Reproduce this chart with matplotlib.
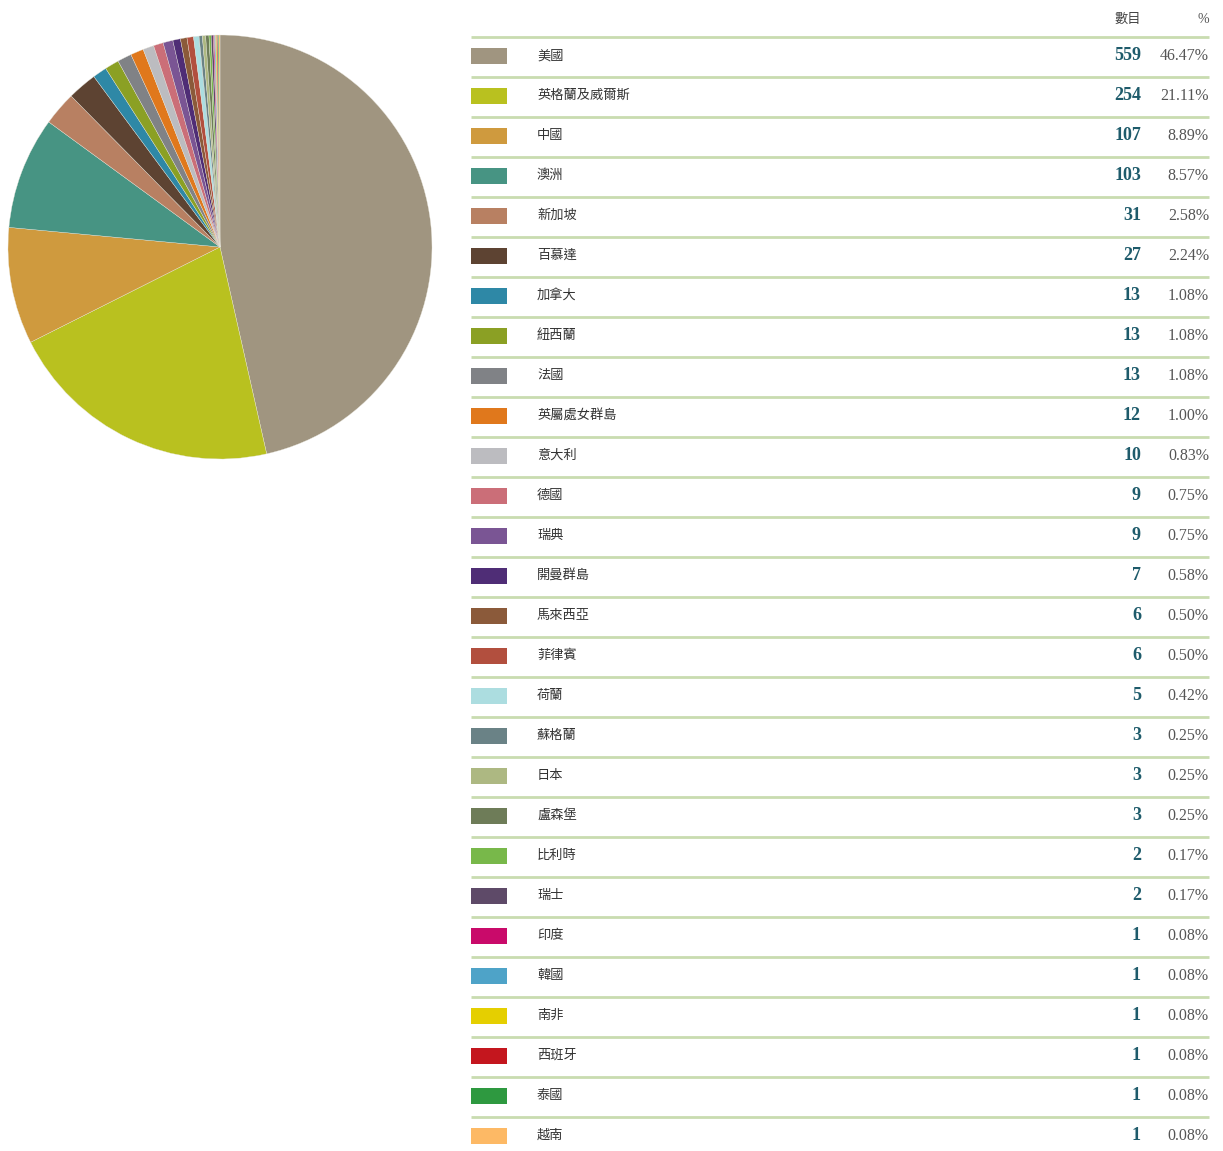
import matplotlib
matplotlib.use("Agg")
import matplotlib.pyplot as plt
from matplotlib.patches import Rectangle

plt.rcParams['font.family'] = ['Noto Sans CJK TC', 'DejaVu Sans']

countries = ["美國", "英格蘭及威爾斯", "中國", "澳洲", "新加坡", "百慕達", "加拿大",
             "紐西蘭", "法國", "英屬處女群島", "意大利", "德國", "瑞典", "開曼群島",
             "馬來西亞", "菲律賓", "荷蘭", "蘇格蘭", "日本", "盧森堡", "比利時", "瑞士",
             "印度", "韓國", "南非", "西班牙", "泰國", "越南"]
counts = [559, 254, 107, 103, 31, 27, 13, 13, 13, 12, 10, 9, 9, 7, 6, 6, 5, 3, 3, 3,
          2, 2, 1, 1, 1, 1, 1, 1]
percents = ["46.47%", "21.11%", "8.89%", "8.57%", "2.58%", "2.24%", "1.08%", "1.08%",
            "1.08%", "1.00%", "0.83%", "0.75%", "0.75%", "0.58%", "0.50%", "0.50%",
            "0.42%", "0.25%", "0.25%", "0.25%", "0.17%", "0.17%", "0.08%", "0.08%",
            "0.08%", "0.08%", "0.08%", "0.08%"]
colors = ["#a09580", "#b9c11f", "#cf9a3e", "#479483", "#b88062", "#5d4332", "#2e88a6",
          "#8ba024", "#808286", "#e0781c", "#bcbcc0", "#cb6e78", "#7a5594", "#4f2d76",
          "#8b5a3a", "#b24f3e", "#acdde0", "#6a8286", "#adb882", "#6e7c58", "#78b84a",
          "#5e4a68", "#c90a6a", "#4ea3c8", "#e5cf00", "#c4161e", "#2e9940", "#fdb965"]

W, H = 1223, 1151
fig = plt.figure(figsize=(W / 100, H / 100), dpi=100)

# pie on the left
pie_ax = fig.add_axes([8 / W, (H - 459) / H, 424 / W, 424 / H])
pie_ax.pie(counts, colors=colors, startangle=90, counterclock=False,
           wedgeprops={'edgecolor': '#e8e6dc', 'linewidth': 0.25})
pie_ax.set_xlim(-1, 1)
pie_ax.set_ylim(-1, 1)
pie_ax.set_aspect('equal')

# table on the right, pixel coordinates
tab = fig.add_axes([0, 0, 1, 1], zorder=-1)
tab.set_xlim(0, W)
tab.set_ylim(H, 0)
tab.axis('off')

serif = ['Liberation Serif', 'DejaVu Serif']
tab.text(1141, 19, "數目", ha='right', va='center', fontsize=9.5, color='#444444')
tab.text(1209, 19, "%", ha='right', va='center', fontsize=10, color='#555555', family=serif)

row_h = 40
y0 = 55.5
line_color = '#c9dcb0'
tab.plot([471, 1209], [y0 - 19, y0 - 19], color=line_color, lw=2, solid_capstyle='butt')
for i, (name, n, pct, c) in enumerate(zip(countries, counts, percents, colors)):
    y = y0 + i * row_h
    tab.add_patch(Rectangle((471, y - 8), 36, 16, color=c, lw=0))
    tab.text(537, y, name, ha='left', va='center', fontsize=9.5, color='#333333')
    tab.text(1141, y, str(n), ha='right', va='center', fontsize=13, fontweight='bold',
             color='#1e5b6b', family=serif)
    tab.text(1209, y, pct, ha='right', va='center', fontsize=11.5, color='#555555',
             family=serif)
    if i < len(countries) - 1:
        tab.plot([471, 1209], [y + 21, y + 21], color=line_color, lw=2,
                 solid_capstyle='butt')

fig.savefig("out.png", dpi=100, facecolor='white')
